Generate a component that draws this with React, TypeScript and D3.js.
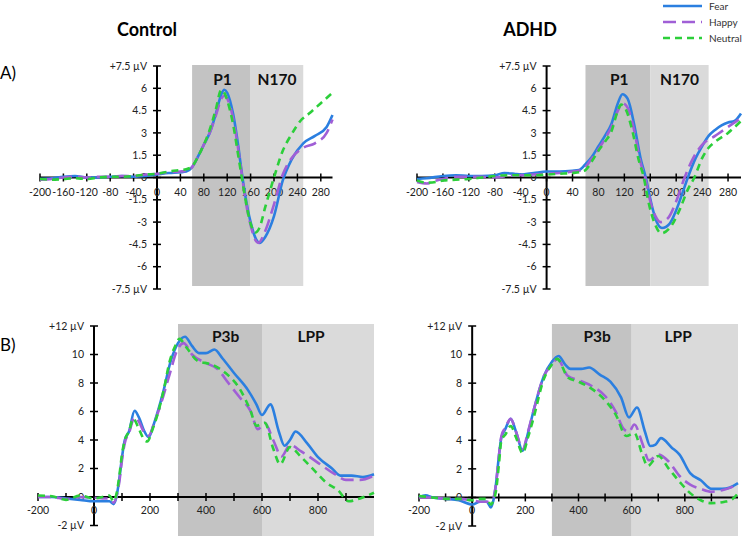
import React from 'react';
import * as d3 from 'd3';

type Pt = [number, number];

// ---- data (ms, µV) ----
const seriesNames = ['Fear', 'Happy', 'Neutral'];

const aControlFear: Pt[] = [[-200,-0.1],[-180,-0.05],[-160,0.05],[-140,0.1],[-120,0.0],[-100,0.0],[-80,0.05],[-60,0.1],[-40,0.05],[-20,0.1],[0,0.2],[20,0.3],[40,0.35],[50,0.4],[60,0.7],[70,1.4],[80,2.2],[90,3.0],[100,4.2],[110,5.6],[115,5.9],[120,5.7],[130,4.3],[140,1.8],[145,0.3],[150,-1.0],[160,-3.0],[170,-4.2],[175,-4.4],[185,-4.0],[200,-2.6],[215,-0.2],[230,1.2],[250,2.3],[270,2.8],[290,3.4],[300,4.2]];
const aControlHappy: Pt[] = [[-200,-0.15],[-180,-0.1],[-160,0.0],[-140,0.05],[-120,0.0],[-100,0.05],[-80,0.05],[-60,0.1],[-40,0.1],[-20,0.2],[0,0.25],[20,0.35],[40,0.4],[50,0.45],[60,0.7],[70,1.4],[80,2.2],[90,3.0],[100,4.1],[110,5.3],[115,5.5],[120,5.3],[130,4.0],[140,1.6],[145,0.2],[150,-1.2],[160,-3.2],[168,-4.2],[173,-4.4],[185,-3.6],[200,-1.8],[215,0.2],[230,1.3],[250,2.0],[270,2.3],[290,3.0],[300,3.9]];
const aControlNeutral: Pt[] = [[-200,-0.1],[-180,-0.15],[-160,-0.1],[-140,-0.05],[-120,-0.1],[-100,0.0],[-80,0.05],[-60,0.05],[-40,0.1],[-20,0.2],[0,0.25],[20,0.4],[40,0.5],[50,0.55],[60,0.75],[70,1.4],[80,2.2],[90,3.2],[100,4.5],[110,5.9],[115,5.7],[120,5.2],[130,3.6],[140,1.2],[145,0.0],[150,-1.2],[160,-3.1],[168,-3.7],[175,-3.4],[185,-2.0],[200,0.0],[215,1.8],[230,2.9],[245,3.8],[260,4.3],[280,5.0],[300,5.7]];

const aAdhdFear: Pt[] = [[-200,-0.1],[-185,-0.05],[-160,0.1],[-140,0.15],[-120,0.1],[-100,0.1],[-80,0.15],[-65,0.3],[-50,0.25],[-40,0.2],[-20,0.3],[0,0.4],[20,0.4],[40,0.45],[50,0.5],[60,0.9],[70,1.4],[80,2.1],[90,2.8],[100,3.6],[110,5.0],[117,5.6],[125,5.3],[135,3.6],[145,1.3],[153,0.0],[163,-2.0],[170,-3.0],[178,-3.4],[190,-3.1],[200,-2.2],[210,-1.0],[218,0.0],[230,1.3],[240,2.1],[250,2.8],[260,3.2],[270,3.5],[280,3.7],[290,3.8],[300,4.3]];
const aAdhdHappy: Pt[] = [[-200,-0.3],[-185,-0.4],[-170,-0.2],[-160,-0.1],[-140,0.05],[-120,0.05],[-100,0.05],[-80,0.0],[-60,0.1],[-40,0.15],[-20,0.2],[0,0.25],[20,0.3],[40,0.4],[50,0.45],[60,0.7],[70,1.3],[80,1.9],[90,2.6],[100,3.4],[110,4.5],[117,5.0],[125,4.7],[135,3.2],[145,1.0],[152,0.0],[160,-1.6],[168,-2.6],[176,-3.0],[188,-2.7],[200,-1.6],[213,0.0],[225,1.2],[240,2.2],[260,2.8],[280,3.4],[300,4.0]];
const aAdhdNeutral: Pt[] = [[-200,-0.2],[-185,-0.35],[-170,-0.3],[-160,-0.2],[-140,-0.15],[-120,-0.1],[-100,0.0],[-80,0.1],[-60,0.15],[-40,0.15],[-20,0.15],[0,0.2],[20,0.25],[40,0.3],[50,0.35],[60,0.5],[70,1.1],[80,1.8],[90,2.4],[100,3.1],[110,4.5],[115,4.9],[122,4.6],[132,3.2],[142,1.2],[150,0.0],[158,-1.8],[166,-3.0],[177,-3.75],[190,-3.4],[205,-2.2],[218,-0.8],[228,0.0],[240,1.3],[250,2.0],[260,2.4],[280,3.0],[300,3.8]];

const bControlFear: Pt[] = [[-200,0.0],[-150,0.0],[-100,-0.1],[-50,-0.2],[0,-0.3],[30,-0.3],[55,-0.3],[70,-0.5],[80,0.0],[90,1.2],[100,2.8],[110,4.0],[125,4.6],[145,6.05],[160,5.6],[180,4.6],[195,4.2],[215,5.2],[245,7.2],[275,9.6],[300,10.8],[325,11.25],[350,10.6],[375,10.1],[400,10.1],[430,10.35],[460,9.7],[500,8.7],[550,7.5],[580,6.5],[600,5.75],[630,6.5],[660,4.6],[680,3.6],[700,4.0],[720,4.6],[760,3.8],[800,2.8],[850,2.0],[880,1.5],[920,1.5],[960,1.4],[1000,1.6]];
const bControlHappy: Pt[] = [[-200,0.0],[-150,0.0],[-100,-0.15],[-50,0.0],[0,-0.05],[30,-0.1],[55,-0.1],[70,-0.4],[80,0.0],[90,1.0],[100,2.6],[110,3.8],[125,4.5],[145,5.6],[160,5.3],[180,4.5],[195,4.3],[215,5.2],[240,6.6],[270,8.6],[295,10.2],[320,10.8],[350,10.0],[400,9.4],[440,9.0],[480,8.0],[520,7.0],[560,6.0],[585,4.75],[610,5.2],[640,4.0],[670,2.85],[700,3.65],[740,3.2],[800,2.4],[860,1.6],[900,1.2],[950,1.2],[1000,1.5]];
const bControlNeutral: Pt[] = [[-200,0.1],[-150,0.05],[-100,-0.2],[-50,0.1],[0,-0.1],[30,0.0],[55,0.1],[70,-0.3],[80,0.2],[90,1.4],[100,3.0],[110,4.0],[125,4.6],[140,5.5],[160,4.8],[180,4.0],[190,3.9],[210,4.8],[230,6.0],[250,7.6],[270,9.5],[290,10.6],[305,11.1],[330,10.5],[370,9.55],[420,9.3],[470,8.7],[520,7.6],[560,6.0],[580,5.0],[610,5.2],[640,3.4],[665,2.3],[700,3.5],[740,2.8],[790,1.8],[830,1.0],[870,0.5],[910,-0.3],[950,-0.1],[1000,0.3]];

const bAdhdFear: Pt[] = [[-200,0.0],[-175,0.15],[-150,0.0],[-100,-0.1],[-50,-0.2],[0,-0.5],[30,-0.3],[55,-0.3],[70,-0.7],[80,-0.2],[90,1.0],[100,2.8],[110,4.2],[125,4.8],[145,5.5],[165,4.6],[190,3.25],[210,4.5],[230,6.0],[270,8.5],[300,9.5],[325,9.9],[350,9.3],[370,9.0],[410,9.0],[440,9.1],[480,8.6],[520,8.1],[560,7.0],[590,5.6],[620,6.3],[650,4.6],[670,3.6],[690,3.7],[710,4.15],[750,3.5],[780,3.0],[820,1.7],[860,1.2],[900,0.6],[940,0.6],[970,0.7],[1000,1.0]];
const bAdhdHappy: Pt[] = [[-200,0.0],[-150,0.0],[-100,-0.1],[-50,-0.1],[0,-0.2],[30,-0.3],[55,-0.3],[70,-0.2],[80,0.0],[90,1.0],[100,2.8],[110,4.3],[125,4.9],[145,5.5],[165,4.6],[190,3.4],[210,4.6],[230,6.0],[270,8.5],[300,9.3],[320,9.7],[360,8.5],[400,8.2],[450,7.8],[500,7.1],[540,6.0],[570,4.8],[590,4.6],[610,5.1],[640,3.8],[665,2.6],[700,3.0],[740,2.5],[780,1.5],[820,0.9],[860,0.6],[900,0.4],[940,0.5],[1000,0.9]];
const bAdhdNeutral: Pt[] = [[-200,0.1],[-150,0.0],[-100,-0.1],[-50,-0.1],[0,-0.2],[30,-0.1],[55,-0.1],[70,-0.5],[80,-0.2],[90,0.5],[100,2.2],[110,4.0],[125,4.4],[145,5.0],[165,4.2],[190,3.1],[210,4.2],[230,5.5],[270,8.3],[300,9.3],[320,9.7],[360,8.4],[400,8.1],[450,7.6],[500,6.8],[540,5.8],[580,4.3],[610,4.5],[640,3.0],[660,2.2],[700,2.9],[740,2.0],[780,1.1],[820,0.3],[860,-0.2],[900,-0.4],[950,-0.3],[980,-0.1],[1000,0.3]];

// ticks
const aXTicks = [-200, -160, -120, -80, -40, 0, 40, 80, 120, 160, 200, 240, 280];
const aYTicks = [7.5, 6, 4.5, 3, 1.5, 0, -1.5, -3, -4.5, -6, -7.5];
const aYLabels = ['+7.5 µV', '6', '4.5', '3', '1.5', '0', '-1.5', '-3', '-4.5', '-6', '-7.5 µV'];
const bXTicks = [-200, -100, 0, 100, 200, 300, 400, 500, 600, 700, 800, 900];
const bXLabels = [-200, 0, 200, 400, 600, 800];
const bYTicks = [12, 10, 8, 6, 4, 2, 0, -2];
const bYLabels = ['+12 µV', '10', '8', '6', '4', '2', '0', '-2 µV'];

// windows
const aWindows = [{ name: 'P1', from: 60, to: 160, labelAt: 112 }, { name: 'N170', from: 160, to: 250, labelAt: 205 }];
const bWindows = [{ name: 'P3b', from: 300, to: 600, labelAt: 470 }, { name: 'LPP', from: 600, to: 1000, labelAt: 775 }];

const colors = ['#2b7fe0', '#a05fd6', '#2ccf3a'];
const dashes = ['none', '13 6', '7 5'];
const shade = ['#c3c3c3', '#dadada'];
const font = 'Lato, "Open Sans", sans-serif';

type PanelProps = {
  xRange: [number, number];
  yRange: [number, number];
  xDomain: [number, number];
  yDomain: [number, number];
  xTicks: number[];
  xLabels: number[];
  yTicks: number[];
  yLabels: string[];
  windows: { name: string; from: number; to: number; labelAt: number }[];
  shadeTop: number;
  shadeBottom: number;
  labelY: number;
  xLabelDy: number;
  series: Pt[][];
};

function Panel(p: PanelProps) {
  const x = d3.scaleLinear().domain(p.xDomain).range(p.xRange);
  const y = d3.scaleLinear().domain(p.yDomain).range(p.yRange);
  const line = d3.line<Pt>().x(d => x(d[0])).y(d => y(d[1])).curve(d3.curveMonotoneX);
  const x0 = x(0);
  const y0 = y(0);
  return (
    <g>
      {p.windows.map((w, i) => (
        <rect key={w.name} x={x(w.from)} width={x(w.to) - x(w.from)} y={p.shadeTop} height={p.shadeBottom - p.shadeTop} fill={shade[i]} />
      ))}
      {p.windows.map(w => (
        <text key={w.name} x={x(w.labelAt)} y={p.labelY} textAnchor="middle" fontWeight="bold" fontSize={15.5} fill="#111">{w.name}</text>
      ))}
      {/* axes */}
      <line x1={x(p.xDomain[0])} x2={x(p.xDomain[1])} y1={y0} y2={y0} stroke="#000" strokeWidth={2} />
      <line x1={x0} x2={x0} y1={y(p.yDomain[1])} y2={y(p.yDomain[0])} stroke="#000" strokeWidth={2} />
      {p.xTicks.map(t => (
        <line key={t} x1={x(t)} x2={x(t)} y1={y0 - 4} y2={y0 + 4} stroke="#000" strokeWidth={1.5} />
      ))}
      {p.yTicks.map(t => (
        <line key={t} x1={x0 - 4} x2={x0 + 4} y1={y(t)} y2={y(t)} stroke="#000" strokeWidth={1.5} />
      ))}
      {p.xLabels.map(t => (
        <text key={t} x={x(t)} y={y0 + p.xLabelDy} textAnchor="middle" fontSize={10.5} fill="#222">{t}</text>
      ))}
      {p.yTicks.map((t, i) => (
        <text key={t} x={x0 - 10} y={y(t)} dy="0.35em" textAnchor="end" fontSize={10.5} fill="#222">{p.yLabels[i]}</text>
      ))}
      {p.series.map((s, i) => (
        <path key={i} d={line(s) || ''} fill="none" stroke={colors[i]} strokeWidth={2.6} strokeDasharray={dashes[i]} />
      ))}
    </g>
  );
}

export default function App() {
  const aCommon = {
    xDomain: [-200, 300] as [number, number],
    yDomain: [-7.5, 7.5] as [number, number],
    xTicks: aXTicks,
    xLabels: aXTicks,
    yTicks: aYTicks,
    yLabels: aYLabels,
    windows: aWindows,
    shadeTop: 65,
    shadeBottom: 286,
    labelY: 85,
    xLabelDy: 18,
  };
  const bCommon = {
    xDomain: [-200, 1000] as [number, number],
    yDomain: [-2, 12] as [number, number],
    xTicks: bXTicks,
    xLabels: bXLabels,
    yTicks: bYTicks,
    yLabels: bYLabels,
    windows: bWindows,
    shadeTop: 324,
    shadeBottom: 536,
    labelY: 342,
    xLabelDy: 17,
  };
  return (
    <svg width={745} height={536} style={{ position: 'absolute', left: 0, top: 0, fontFamily: font }}>
      <rect width={745} height={536} fill="#fff" />
      <text x={147} y={36} textAnchor="middle" fontWeight="bold" fontSize={18} fill="#000">Control</text>
      <text x={530} y={36} textAnchor="middle" fontWeight="bold" fontSize={18} fill="#000">ADHD</text>
      <text x={0} y={79} fontSize={17} fill="#000">A)</text>
      <text x={0} y={351} fontSize={17} fill="#000">B)</text>

      <Panel {...aCommon} xRange={[40, 332.5]} yRange={[289, 66]} series={[aControlFear, aControlHappy, aControlNeutral]} />
      <Panel {...aCommon} xRange={[417, 741]} yRange={[289, 66]} series={[aAdhdFear, aAdhdHappy, aAdhdNeutral]} />
      <Panel {...bCommon} xRange={[38, 374]} yRange={[525.5, 326]} series={[bControlFear, bControlHappy, bControlNeutral]} />
      <Panel {...bCommon} xRange={[419, 738]} yRange={[526, 326]} series={[bAdhdFear, bAdhdHappy, bAdhdNeutral]} />

      {seriesNames.map((n, i) => (
        <g key={n} transform={`translate(663,${6 + i * 16})`}>
          <line x1={0} x2={39} y1={0} y2={0} stroke={colors[i]} strokeWidth={2.6} strokeDasharray={dashes[i]} />
          <text x={46} y={0} dy="0.35em" fontSize={10} fill="#333">{n}</text>
        </g>
      ))}
    </svg>
  );
}
